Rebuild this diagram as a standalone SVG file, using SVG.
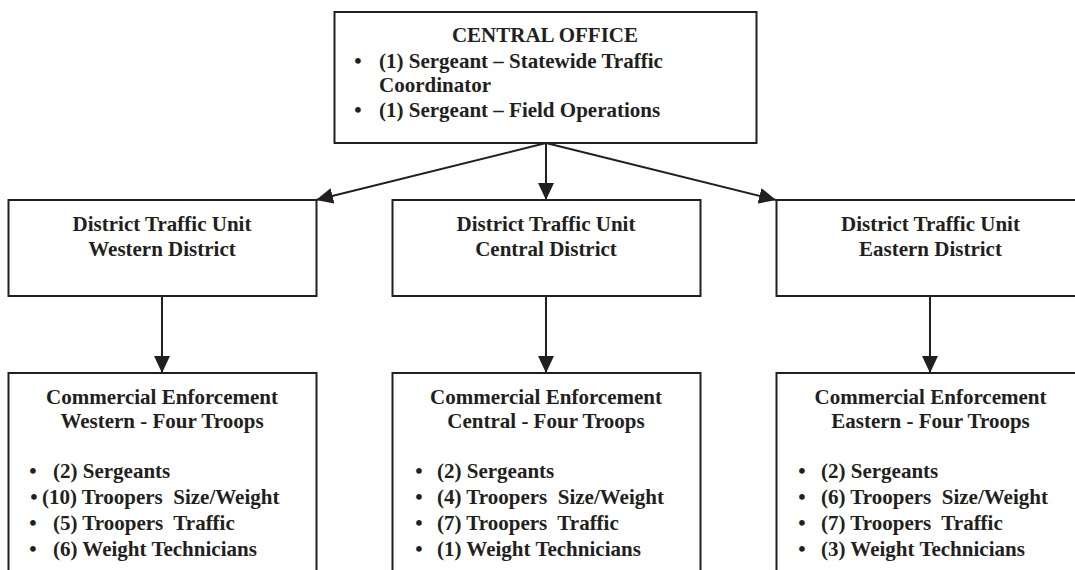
<svg xmlns="http://www.w3.org/2000/svg" width="1075" height="570" viewBox="0 0 1075 570">
<style>
.box{fill:#fff;stroke:#231f20;stroke-width:2}
text{font-family:"Liberation Serif","Times New Roman",serif;font-weight:bold;font-size:21px;fill:#231f20;white-space:pre}
.c{text-anchor:middle}
.b{text-anchor:middle}
.conn{stroke:#231f20;stroke-width:2;fill:none}
</style>
<defs>
<marker id="arr" markerUnits="userSpaceOnUse" markerWidth="17" markerHeight="16" viewBox="0 0 17 16" refX="17" refY="8" orient="auto">
<path d="M0,0 L17,8 L0,16 Z" fill="#231f20"/>
</marker>
</defs>
<rect width="1075" height="570" fill="#fff"/>
<g id="connectors">
<line class="conn" x1="546" y1="143" x2="316" y2="200" marker-end="url(#arr)"/>
<line class="conn" x1="546" y1="143" x2="546" y2="200" marker-end="url(#arr)"/>
<line class="conn" x1="546" y1="143" x2="776" y2="200" marker-end="url(#arr)"/>
<line class="conn" x1="162" y1="296" x2="162" y2="373" marker-end="url(#arr)"/>
<line class="conn" x1="546" y1="296" x2="546" y2="373" marker-end="url(#arr)"/>
<line class="conn" x1="930" y1="296" x2="930" y2="373" marker-end="url(#arr)"/>
</g>
<g id="central-office">
<rect class="box" x="334.5" y="12" width="422" height="131"/>
<text class="c" x="545" y="42">CENTRAL OFFICE</text>
<text class="b" x="358" y="68">•</text>
<text x="379" y="68">(1) Sergeant – Statewide Traffic</text>
<text x="379" y="92">Coordinator</text>
<text class="b" x="358" y="117">•</text>
<text x="379" y="117">(1) Sergeant – Field Operations</text>
</g>
<g id="dtu-western">
<rect class="box" x="8.5" y="200" width="308" height="96"/>
<text class="c" x="162" y="231">District Traffic Unit</text>
<text class="c" x="162" y="256">Western District</text>
</g>
<g id="dtu-central">
<rect class="box" x="392.5" y="200" width="308" height="96"/>
<text class="c" x="546" y="231">District Traffic Unit</text>
<text class="c" x="546" y="256">Central District</text>
</g>
<g id="dtu-eastern">
<rect class="box" x="776.5" y="200" width="309" height="96"/>
<text class="c" x="930.5" y="231">District Traffic Unit</text>
<text class="c" x="930.5" y="256">Eastern District</text>
</g>
<g id="ce-western">
<rect class="box" x="8.5" y="373" width="308" height="210"/>
<text class="c" x="162" y="404">Commercial Enforcement</text>
<text class="c" x="162" y="428">Western - Four Troops</text>
<text class="b" x="33" y="478">•</text>
<text x="53" y="478">(2) Sergeants</text>
<text class="b" x="34" y="504">•</text>
<text x="42" y="504">(10) Troopers  Size/Weight</text>
<text class="b" x="33" y="530">•</text>
<text x="53" y="530">(5) Troopers  Traffic</text>
<text class="b" x="33" y="556">•</text>
<text x="53" y="556">(6) Weight Technicians</text>
</g>
<g id="ce-central">
<rect class="box" x="392.5" y="373" width="308" height="210"/>
<text class="c" x="546" y="404">Commercial Enforcement</text>
<text class="c" x="546" y="428">Central - Four Troops</text>
<text class="b" x="419" y="478">•</text>
<text x="437" y="478">(2) Sergeants</text>
<text class="b" x="419" y="504">•</text>
<text x="437" y="504">(4) Troopers  Size/Weight</text>
<text class="b" x="419" y="530">•</text>
<text x="437" y="530">(7) Troopers  Traffic</text>
<text class="b" x="419" y="556">•</text>
<text x="437" y="556">(1) Weight Technicians</text>
</g>
<g id="ce-eastern">
<rect class="box" x="776.5" y="373" width="309" height="210"/>
<text class="c" x="930.5" y="404">Commercial Enforcement</text>
<text class="c" x="930.5" y="428">Eastern - Four Troops</text>
<text class="b" x="802" y="478">•</text>
<text x="821" y="478">(2) Sergeants</text>
<text class="b" x="802" y="504">•</text>
<text x="821" y="504">(6) Troopers  Size/Weight</text>
<text class="b" x="802" y="530">•</text>
<text x="821" y="530">(7) Troopers  Traffic</text>
<text class="b" x="802" y="556">•</text>
<text x="821" y="556">(3) Weight Technicians</text>
</g>
</svg>
